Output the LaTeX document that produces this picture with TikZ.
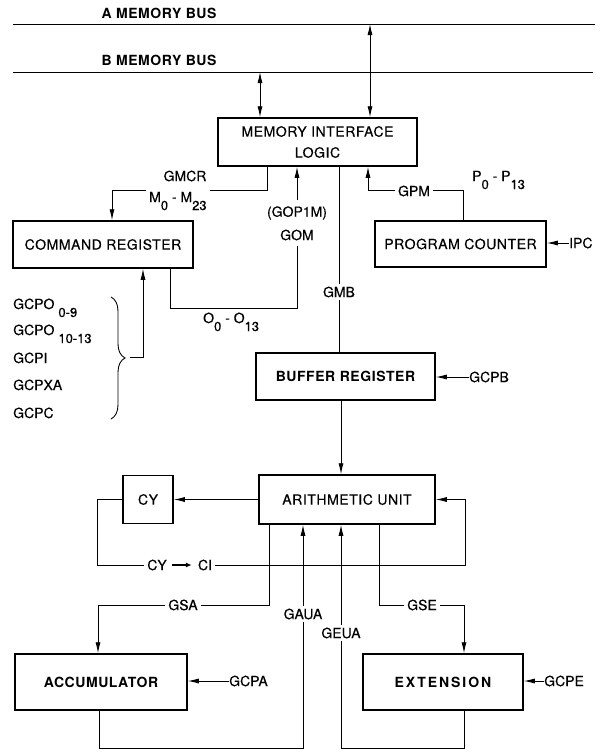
\documentclass[tikz,border=0pt]{standalone}
\usepackage{fontspec}
\setmainfont{TeX Gyre Heros}[UprightFeatures={FakeBold=0.4}]
\newfontfamily\unitfont{TeX Gyre Heros}[LetterSpace=4, UprightFeatures={FakeBold=0.4}]
\usetikzlibrary{arrows.meta,decorations.pathreplacing,backgrounds}
% subscripts set well below the letters, as on the original lettering
\newcommand{\lowsub}[1]{\raisebox{-8pt}{\fontsize{13}{13}\selectfont #1}}

\begin{document}
\begin{tikzpicture}[x=1pt,y=-1pt,
  unit/.style={draw, line width=1.5pt, inner sep=0pt, align=center,
    font=\unitfont\fontsize{14}{21}\selectfont},
  boldunit/.style={unit, font=\unitfont\bfseries\fontsize{14}{21}\selectfont},
  wire/.style={line width=0.9pt},
  bus/.style={line width=0.8pt},
  arr/.style={-{Latex[length=11pt,width=5pt]}},
  dblarr/.style={{Latex[length=11pt,width=5pt]}-{Latex[length=11pt,width=5pt]}},
  lbl/.style={inner xsep=3pt, inner ysep=3pt, fill=white, font=\fontsize{14}{16}\selectfont},
  tag/.style={inner sep=0pt, font=\fontsize{14}{16}\selectfont},
  buslbl/.style={inner sep=0pt, font=\unitfont\bfseries\fontsize{14}{16}\selectfont},
]
\useasboundingbox (0,0) rectangle (603,753);

% ---- functional units
\node[unit, minimum width=199pt, minimum height=48pt] (mil) at (317.5,142) {MEMORY INTERFACE\\LOGIC};
\node[unit, minimum width=180pt, minimum height=47pt] (cmd) at (103,244.5) {COMMAND REGISTER};
\node[unit, minimum width=171pt, minimum height=46pt] (pc) at (460.5,244) {PROGRAM COUNTER};
\node[boldunit, minimum width=179pt, minimum height=47pt] (buf) at (345.5,376.5) {BUFFER REGISTER};
\node[unit, minimum width=176pt, minimum height=49pt] (au) at (347,499.5) {ARITHMETIC UNIT};
\node[unit, minimum width=50pt, minimum height=48pt] (cy) at (148,499.5) {CY};
\node[boldunit, minimum width=172pt, minimum height=56pt] (acc) at (101,682) {ACCUMULATOR};
\node[boldunit, minimum width=160pt, minimum height=56pt] (ext) at (443,682) {\addfontfeature{LetterSpace=14}EXTENSION};

% ---- bus names
\node[buslbl] (alab) at (159,13) {A MEMORY BUS};
\node[buslbl] (blab) at (159,60) {B MEMORY BUS};

% ---- signal names
\node[tag] (gmcr) at (185,176) {GMCR};
\node[lbl, anchor=base west] (mlab) at (146,202) {M\lowsub{0} - M\lowsub{23}};
\node[lbl, inner ysep=6pt] (gop) at (297,213) {(GOP1M)};
\node[lbl, inner ysep=6pt] (gom) at (297,235) {GOM};
\node[tag, anchor=base west] (olab) at (203,323) {O\lowsub{0} - O\lowsub{13}};
\node[lbl] (gmb) at (339,292) {GMB};
\node[lbl] (gpm) at (414,191) {GPM};
\node[tag, anchor=base west] (plab) at (472,181) {P\lowsub{0} - P\lowsub{13}};
\node[tag, anchor=west] (ipc) at (569,243) {IPC};

\node[tag, anchor=base west] (g1) at (13,309) {GCPO\hspace{4pt}\lowsub{0-9}};
\node[tag, anchor=base west] (g2) at (13,335) {GCPO\hspace{4pt}\lowsub{10-13}};
\node[tag, anchor=base west] (g3) at (13,363) {GCPI};
\node[tag, anchor=base west] (g4) at (13,390) {GCPXA};
\node[tag, anchor=base west] (g5) at (13,418) {GCPC};

\node[tag, anchor=west] (gcpb) at (469,377) {GCPB};
\node[lbl] (cyt) at (157,565) {CY};
\node[lbl] (cit) at (205,565) {CI};
\node[lbl] (gsa) at (183,605) {GSA};
\node[lbl] (gse) at (422,605) {GSE};
\node[lbl] (gaua) at (303,614) {GAUA};
\node[lbl] (geua) at (341,633) {GEUA};
\node[tag, anchor=west] (gcpa) at (229,681) {GCPA};
\node[tag, anchor=west] (gcpe) at (544,681) {GCPE};

% ---- connections
\begin{scope}[on background layer]
  % memory buses
  \coordinate (aL) at (13,24);  \coordinate (aR) at (595,24);
  \coordinate (bL) at (13,72);  \coordinate (bR) at (593,72);
  \coordinate (aTap) at (370,24); \coordinate (bTap) at (260,72);
  \draw[bus] (aL) -- (aR);
  \draw[bus] (bL) -- (bR);
  \draw[wire,dblarr] (aTap) -- (aTap |- mil.north);
  \draw[wire,dblarr] (bTap) -- (bTap |- mil.north);

  % memory interface <-> command register
  \coordinate (mA) at (267,190); \coordinate (mB) at (112,190);
  \draw[wire,arr] (mil.south -| mA) -- (mA) -- (mB) -- (cmd.north -| mB);
  \coordinate (oL) at (170,308); \coordinate (oR) at (297,308);
  \draw[wire,arr] (cmd.south -| oL) -- (oL) -- (oR) -- (mil.south -| oR);

  % memory interface -> buffer register
  \draw[wire] (mil.south -| gmb) -- (buf.north -| gmb);

  % program counter -> memory interface
  \coordinate (pA) at (463,190); \coordinate (pB) at (368,190);
  \draw[wire,arr] (pc.north -| pA) -- (pA) -- (pB) -- (mil.south -| pB);
  \draw[wire,arr] (ipc.west) -- (ipc.west -| pc.east);

  % command register control lines
  \coordinate (bt) at (111,297); \coordinate (bb) at (111,419);
  \draw[wire, decorate, decoration={brace, amplitude=14pt}] (bt) -- (bb);
  \coordinate (bTip) at (130,357); \coordinate (bUp) at (143,357);
  \draw[wire,arr] (bTip) -- (bUp) -- (cmd.south -| bUp);

  % buffer register -> arithmetic unit
  \draw[wire,arr] (gcpb.west) -- (gcpb.west -| buf.east);
  \coordinate (feed) at (341,440);
  \draw[wire,arr] (buf.south -| feed) -- (au.north -| feed);

  % carry loop
  \draw[wire,arr] (au.west) -- (cy.east);
  \coordinate (cyL) at (97,565); \coordinate (cyR) at (465,565);
  \draw[wire] (cy.west) -| (cyL) -- (cyt.west);
  \draw[line width=1.3pt, -{Latex[length=6pt,width=5pt]}, shorten <=2pt, shorten >=3pt] (cyt.east) -- (cit.west);
  \draw[wire,arr] (cit.east) -- (cyR) |- (au.east);

  % arithmetic unit -> accumulator / extension
  \coordinate (sa) at (269,605); \coordinate (saL) at (98,605);
  \draw[wire,arr] (au.south -| sa) -- (sa) -- (saL) -- (acc.north -| saL);
  \coordinate (se) at (379,605); \coordinate (seR) at (464,605);
  \draw[wire,arr] (au.south -| se) -- (se) -- (seR) -- (ext.north -| seR);

  % accumulator / extension -> arithmetic unit
  \coordinate (ab) at (99,748); \coordinate (eb) at (464,748);
  \draw[wire,arr] (acc.south -| ab) -- (ab) -- (ab -| gaua) -- (au.south -| gaua);
  \draw[wire,arr] (ext.south -| eb) -- (eb) -- (eb -| geua) -- (au.south -| geua);
  \draw[wire,arr] (gcpa.west) -- (gcpa.west -| acc.east);
  \draw[wire,arr] (gcpe.west) -- (gcpe.west -| ext.east);
\end{scope}
\end{tikzpicture}
\end{document}
